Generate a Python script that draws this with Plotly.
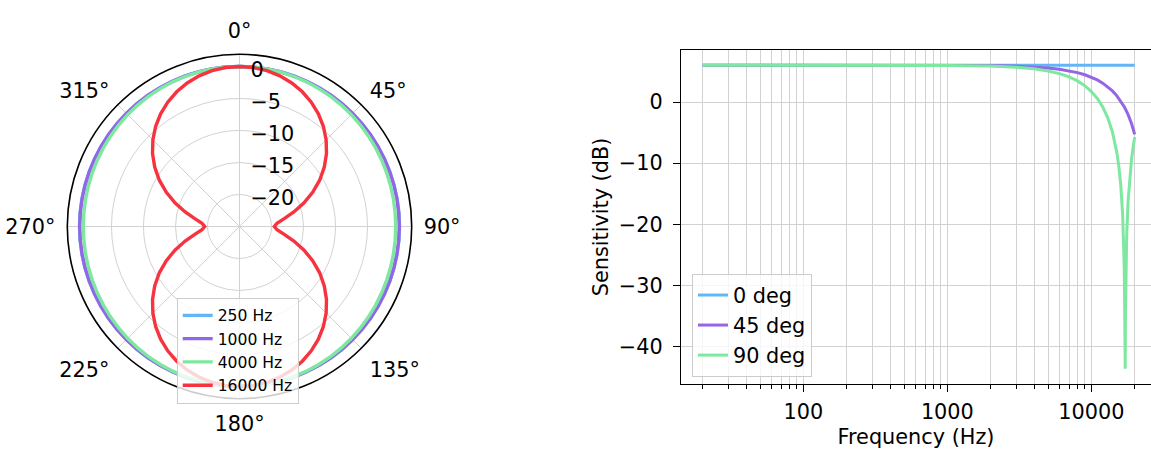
import plotly.graph_objects as go

# ---------------- data ----------------
theta_deg = list(range(0, 361, 5))

polar_250 = [0.0, 0.0, 0.0, -0.0002, -0.0003, -0.0004, -0.0006, -0.0008, -0.0009, -0.0011,
             -0.0013, -0.0015, -0.0017, -0.0019, -0.002, -0.0021, -0.0022, -0.0023, -0.0023,
             -0.0023, -0.0022, -0.0021, -0.002, -0.0019, -0.0017, -0.0015, -0.0013, -0.0011,
             -0.0009, -0.0008, -0.0006, -0.0004, -0.0003, -0.0002, 0.0, 0.0, 0.0,
             0.0, 0.0, -0.0002, -0.0003, -0.0004, -0.0006, -0.0008, -0.0009, -0.0011,
             -0.0013, -0.0015, -0.0017, -0.0019, -0.002, -0.0021, -0.0022, -0.0023, -0.0023,
             -0.0023, -0.0022, -0.0021, -0.002, -0.0019, -0.0017, -0.0015, -0.0013, -0.0011,
             -0.0009, -0.0008, -0.0006, -0.0004, -0.0003, -0.0002, 0.0, 0.0, 0.0]

polar_1000 = [0.0, 0.0, -0.001, -0.002, -0.004, -0.007, -0.009, -0.012, -0.015, -0.018,
              -0.021, -0.025, -0.027, -0.030, -0.032, -0.034, -0.035, -0.036, -0.037,
              -0.036, -0.035, -0.034, -0.032, -0.030, -0.027, -0.025, -0.021, -0.018,
              -0.015, -0.012, -0.009, -0.007, -0.004, -0.002, -0.001, 0.0, 0.0,
              0.0, -0.001, -0.002, -0.004, -0.007, -0.009, -0.012, -0.015, -0.018,
              -0.021, -0.025, -0.027, -0.030, -0.032, -0.034, -0.035, -0.036, -0.037,
              -0.036, -0.035, -0.034, -0.032, -0.030, -0.027, -0.025, -0.021, -0.018,
              -0.015, -0.012, -0.009, -0.007, -0.004, -0.002, -0.001, 0.0, 0.0]

polar_4000 = [0.0, -0.004, -0.018, -0.039, -0.068, -0.105, -0.147, -0.193, -0.243, -0.295,
              -0.347, -0.397, -0.445, -0.488, -0.525, -0.556, -0.578, -0.592, -0.596,
              -0.592, -0.578, -0.556, -0.525, -0.488, -0.445, -0.397, -0.347, -0.295,
              -0.243, -0.193, -0.147, -0.105, -0.068, -0.039, -0.018, -0.004, 0.0,
              -0.004, -0.018, -0.039, -0.068, -0.105, -0.147, -0.193, -0.243, -0.295,
              -0.347, -0.397, -0.445, -0.488, -0.525, -0.556, -0.578, -0.592, -0.596,
              -0.592, -0.578, -0.556, -0.525, -0.488, -0.445, -0.397, -0.347, -0.295,
              -0.243, -0.193, -0.147, -0.105, -0.068, -0.039, -0.018, -0.004, 0.0]

polar_16000 = [0.0, -0.07, -0.28, -0.64, -1.14, -1.78, -2.58, -3.52, -4.61, -5.86,
               -7.26, -8.83, -10.54, -12.39, -14.31, -16.21, -17.91, -19.12, -19.56,
               -19.12, -17.91, -16.21, -14.31, -12.39, -10.54, -8.83, -7.26, -5.86,
               -4.61, -3.52, -2.58, -1.78, -1.14, -0.64, -0.28, -0.07, 0.0,
               -0.07, -0.28, -0.64, -1.14, -1.78, -2.58, -3.52, -4.61, -5.86,
               -7.26, -8.83, -10.54, -12.39, -14.31, -16.21, -17.91, -19.12, -19.56,
               -19.12, -17.91, -16.21, -14.31, -12.39, -10.54, -8.83, -7.26, -5.86,
               -4.61, -3.52, -2.58, -1.78, -1.14, -0.64, -0.28, -0.07, 0.0]

polar_names = ["250 Hz", "1000 Hz", "4000 Hz", "16000 Hz"]

freq_a = [20, 100, 500, 1000, 2000, 3000, 4000, 5000, 6000, 7000, 8000, 9000, 10000,
          11000, 12000, 13000, 14000, 15000, 16000, 17000, 18000, 19000, 20000]
sens_0deg = [6.021, 6.021, 6.021, 6.021, 6.021, 6.021, 6.021, 6.021, 6.021,
             6.021, 6.021, 6.021, 6.021, 6.021, 6.021, 6.021, 6.021, 6.021,
             6.021, 6.021, 6.021, 6.021, 6.021]
sens_45deg = [6.021, 6.020, 6.016, 6.002, 5.948, 5.856, 5.726, 5.557, 5.348, 5.096, 4.799,
              4.453, 4.055, 3.600, 3.081, 2.490, 1.817, 1.047, 0.163, -0.863, -2.069,
              -3.512, -5.287]

freq_b = [20, 100, 500, 1000, 2000, 3000, 4000, 5000, 6000, 7000, 8000, 9000, 10000,
          11000, 12000, 13000, 14000, 14500, 15000, 15500, 16000, 16500, 16800, 16900,
          17000, 17050, 17100, 17186, 17250, 17300, 17400, 17600, 18000, 18500, 19000,
          19500, 20000]
sens_90deg = [6.021, 6.020, 6.011, 5.984, 5.874, 5.689, 5.424, 5.076, 4.637, 4.098, 3.445,
              2.659, 1.714, 0.571, -0.831, -2.591, -4.897, -6.362, -8.150, -10.425,
              -13.543, -18.489, -23.859, -26.780, -31.213, -34.734, -40.746, -43.616,
              -34.743, -31.220, -26.785, -21.681, -16.163, -12.159, -9.441, -7.388, -5.745]

angle_ticks = [0, 45, 90, 135, 180, 225, 270, 315]
angle_labels = ["0°", "45°", "90°", "135°", "180°", "225°", "270°", "315°"]
r_ticks = [-20, -15, -10, -5, 0]
r_labels = ["−20", "−15", "−10", "−5", "0"]
x_major = [100, 1000, 10000]
x_major_labels = ["100", "1000", "10000"]
x_minor = [20, 30, 40, 50, 60, 70, 80, 90, 200, 300, 400, 500, 600, 700, 800, 900,
           2000, 3000, 4000, 5000, 6000, 7000, 8000, 9000, 20000]
y_ticks = [0, -10, -20, -30, -40]
y_labels = ["0", "−10", "−20", "−30", "−40"]

# ---------------- style ----------------
C_BLUE = "#62b6f7"
C_PURPLE = "#9466e6"
C_GREEN = "#7ee8a0"
C_RED = "#f6333f"
FONT = "DejaVu Sans"
FS = 20.8
GRID = "#d2d2d2"
GW = 1.4

W, H = 1151, 453
fig = go.Figure()

polar_sets = [polar_250, polar_1000, polar_4000, polar_16000]
polar_cols = [C_BLUE, C_PURPLE, C_GREEN, C_RED]
for vals, name, col in zip(polar_sets, polar_names, polar_cols):
    fig.add_trace(go.Scatterpolar(r=vals, theta=theta_deg, mode="lines", name=name,
                                  line=dict(color=col, width=3.4), legend="legend",
                                  subplot="polar"))

for xs, ys, name, col in [(freq_a, sens_0deg, "0 deg", C_BLUE),
                          (freq_a, sens_45deg, "45 deg", C_PURPLE),
                          (freq_b, sens_90deg, "90 deg", C_GREEN)]:
    fig.add_trace(go.Scatter(x=xs, y=ys, mode="lines", name=name,
                             line=dict(color=col, width=3), legend="legend2"))

# polar placement (pixels -> paper)
cx, cy, R = 239.5, 226.5, 172.2
fig.update_layout(
    width=W, height=H,
    margin=dict(l=0, r=0, t=0, b=0),
    paper_bgcolor="white", plot_bgcolor="white",
    font=dict(family=FONT, size=FS, color="black"),
    polar=dict(
        domain=dict(x=[(cx - R) / W, (cx + R) / W], y=[(H - cy - R) / H, (H - cy + R) / H]),
        bgcolor="white",
        angularaxis=dict(rotation=90, direction="clockwise", tickmode="array",
                         tickvals=angle_ticks, ticktext=angle_labels,
                         showline=True, linecolor="black", linewidth=1.6,
                         gridcolor=GRID, gridwidth=GW, ticks="outside", ticklen=7,
                         tickcolor="rgba(0,0,0,0)", tickfont=dict(size=FS, family=FONT)),
        radialaxis=dict(range=[-25, 1.9], tickmode="array", tickvals=r_ticks,
                        ticktext=r_labels, showline=False, angle=90, side="clockwise",
                        gridcolor=GRID, gridwidth=GW, ticks="",
                        tickfont=dict(size=FS, family=FONT)),
    ),
    xaxis=dict(type="log", domain=[681 / W, 1.0], range=[1.1503, 4.4142],
               tickmode="array", tickvals=x_major, ticktext=x_major_labels,
               ticks="outside", ticklen=7, tickwidth=1.3, tickcolor="black",
               showline=True, linecolor="black", linewidth=1.3, mirror=True,
               showgrid=True, gridcolor=GRID, gridwidth=GW, zeroline=False,
               minor=dict(tickvals=x_minor, ticks="outside", ticklen=4, tickwidth=1.1,
                          tickcolor="black", showgrid=True, gridcolor=GRID, gridwidth=GW),
               title=dict(text="Frequency (Hz)", font=dict(size=FS, family=FONT), standoff=6),
               ticklabelstandoff=2),
    yaxis=dict(domain=[(H - 384) / H, (H - 50) / H], range=[-46.1, 8.5],
               tickmode="array", tickvals=y_ticks, ticktext=y_labels,
               ticks="outside", ticklen=7, tickwidth=1.3, tickcolor="black",
               showline=True, linecolor="black", linewidth=1.3, mirror=False,
               showgrid=True, gridcolor=GRID, gridwidth=GW, zeroline=False,
               title=dict(text="Sensitivity (dB)", font=dict(size=FS, family=FONT), standoff=4),
               ticklabelstandoff=6),
    legend=dict(x=176.7 / W, y=(H - 297.7) / H, xanchor="left", yanchor="top",
                bgcolor="rgba(255,255,255,0.8)", bordercolor="#cccccc", borderwidth=1,
                font=dict(size=15.6, family=FONT)),
    legend2=dict(x=692 / W, y=(H - 274) / H, xanchor="left", yanchor="top",
                 bgcolor="rgba(255,255,255,0.8)", bordercolor="#cccccc", borderwidth=1,
                 font=dict(size=FS, family=FONT)),
)

fig.write_html("out.html")
